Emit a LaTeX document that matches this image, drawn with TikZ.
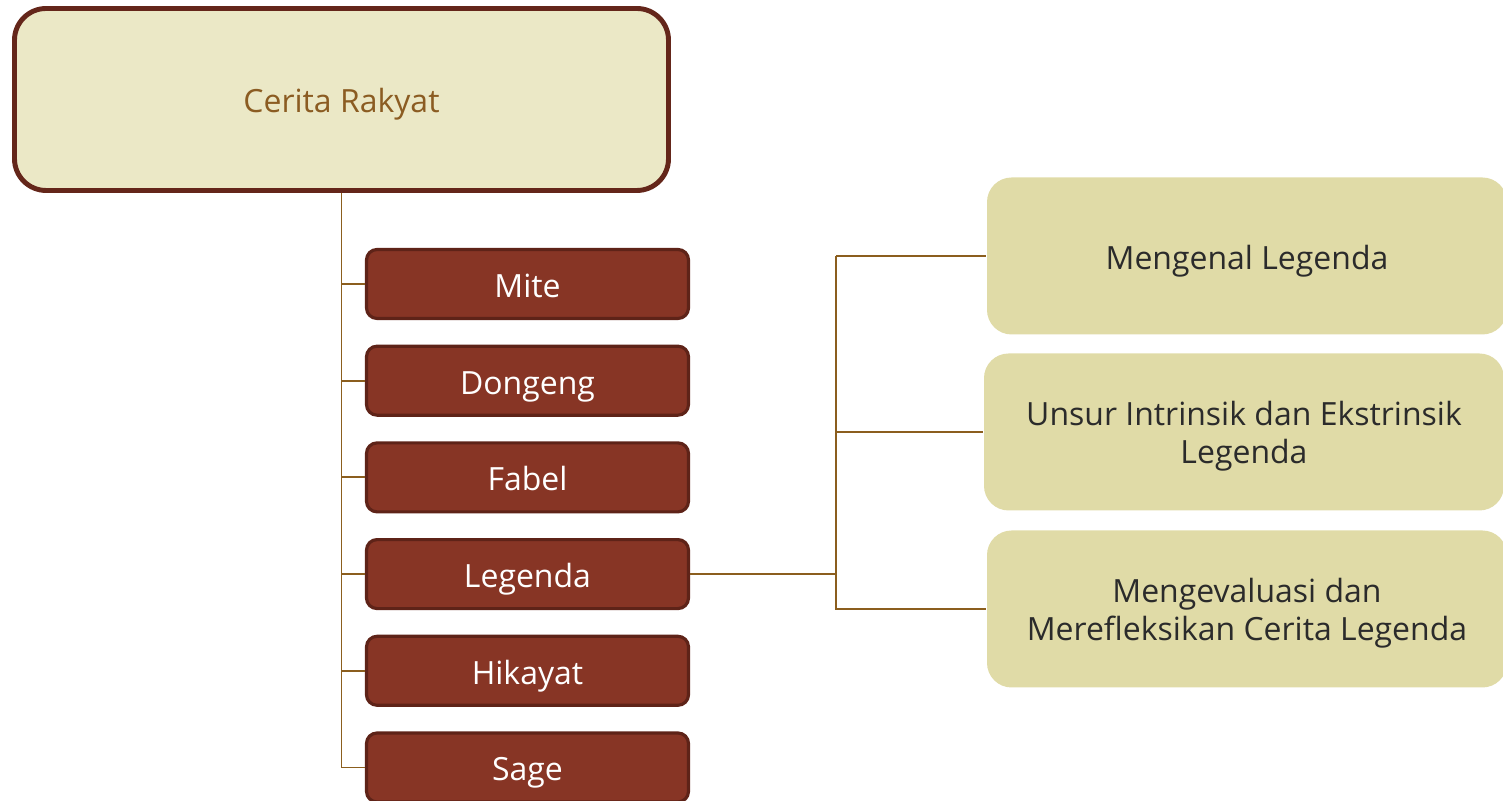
\documentclass[tikz,border=0pt]{standalone}
\usepackage{fontspec}
\setmainfont{Open Sans}
\usetikzlibrary{positioning}

\definecolor{topfill}{HTML}{EBE8C6}
\definecolor{topline}{HTML}{64261A}
\definecolor{toptext}{HTML}{8B5C22}
\definecolor{kindfill}{HTML}{873525}
\definecolor{kindline}{HTML}{5E2318}
\definecolor{subfill}{HTML}{E0DBA7}
\definecolor{subtext}{HTML}{2B2B2B}
\definecolor{link}{HTML}{8B5E1E}

\tikzset{
  rootbox/.style={draw=topline, line width=1.4pt, fill=topfill, rounded corners=9pt,
    minimum width=6.54cm, minimum height=1.82cm, text=toptext,
    text height=1em, text depth=0.24em,
    font=\fontsize{9.1}{11}\selectfont},
  kindbox/.style={draw=kindline, line width=0.9pt, fill=kindfill, rounded corners=3pt,
    minimum width=3.22cm, minimum height=0.69cm, text=white,
    text height=1em, text depth=0.24em,
    font=\fontsize{9.1}{10}\selectfont},
  subbox/.style={fill=subfill, rounded corners=7pt, minimum width=5.2cm,
    minimum height=1.57cm, text=subtext, align=center,
    text height=1em,
    font=\fontsize{9.1}{10.8}\selectfont},
  twolines/.style={text height=19.9pt},
  link/.style={draw=link, line width=0.55pt}
}

\begin{document}
\begin{tikzpicture}[node distance=0.967cm, on grid]
    \useasboundingbox (0,0) rectangle (15.03,-8.01);

    \node[rootbox] (root) at (3.415,-0.995) {Cerita Rakyat};

    \node[kindbox] (mite) at (5.275,-2.84) {Mite};
    \node[kindbox] (dongeng) [below=of mite] {Dongeng};
    \node[kindbox] (fabel) [below=of dongeng] {Fabel};
    \node[kindbox] (legenda) [below=of fabel] {Legenda};
    \node[kindbox] (hikayat) [below=of legenda] {Hikayat};
    \node[kindbox] (sage) [below=of hikayat] {Sage};

    \node[subbox, twolines] (unsur) at (12.44,-4.32) {Unsur Intrinsik dan Ekstrinsik\\Legenda};
    \node[subbox] (mengenal) [above=1.76cm of unsur, xshift=0.03cm] {Mengenal Legenda};
    \node[subbox, twolines] (evaluasi) [below=1.77cm of unsur, xshift=0.03cm] {Mengevaluasi dan\\Merefleksikan Cerita Legenda};

    % batang utama
    \draw[link] (root.south) |- (sage.west);
    \foreach \k in {mite, dongeng, fabel, legenda, hikayat}
      \draw[link] (root.south |- \k.west) -- (\k.west);

    % cabang legenda
    \draw[link] (legenda.east) -- ++(1.46,0) coordinate (split);
    \draw[link] (split |- mengenal.west) -- (mengenal.west);
    \draw[link] (split |- unsur.west) -- (unsur.west);
    \draw[link] (split |- mengenal.west) -- (split |- evaluasi.west) -- (evaluasi.west);
\end{tikzpicture}
\end{document}
